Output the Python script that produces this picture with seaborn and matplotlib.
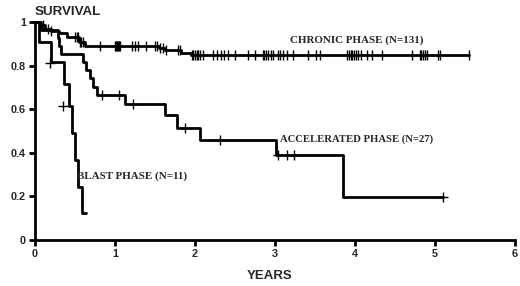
import matplotlib
matplotlib.use("Agg")
import matplotlib.pyplot as plt
import seaborn as sns
import pandas as pd

# Kaplan-Meier steps (time in years, survival level)
chronic_t = [0, 0.06, 0.12, 0.2, 0.3, 0.4, 0.55, 0.62, 1.55, 1.62, 1.82, 1.95, 5.43]
chronic_s = [1, 0.985, 0.97, 0.96, 0.95, 0.93, 0.91, 0.89, 0.88, 0.87, 0.86, 0.85, 0.85]
chronic_cens = [0.1, 0.16, 0.2, 0.5, 0.52, 0.54, 0.56, 0.58, 0.6, 0.81, 1.0, 1.01, 1.02, 1.03,
                1.04, 1.05, 1.06, 1.21, 1.25, 1.29, 1.39, 1.5, 1.52, 1.56, 1.6, 1.64, 1.79,
                1.81, 1.96, 1.98, 2.0, 2.02, 2.04, 2.06, 2.1, 2.23, 2.27, 2.33, 2.37, 2.41,
                2.5, 2.66, 2.75, 2.85, 2.87, 2.89, 2.91, 2.95, 2.98, 3.04, 3.06, 3.1, 3.15,
                3.23, 3.41, 3.52, 3.56, 3.9, 3.93, 3.95, 3.97, 3.99, 4.01, 4.04, 4.08,
                4.15, 4.21, 4.34, 4.71, 4.81, 4.83, 4.85, 4.88, 4.9, 5.04, 5.06, 5.43]

accel_t = [0, 0.08, 0.29, 0.3, 0.32, 0.6, 0.64, 0.69, 0.72, 0.77, 1.12, 1.62, 1.77, 2.06, 3.02, 3.85, 5.1]
accel_s = [1, 0.963, 0.926, 0.889, 0.852, 0.815, 0.778, 0.741, 0.704, 0.667, 0.625, 0.573,
           0.514, 0.459, 0.39, 0.195, 0.195]
accel_cens_t = [0.84, 1.05, 1.23, 1.87, 2.31, 3.04, 3.15, 3.24, 5.1]
accel_cens_s = [0.667, 0.667, 0.625, 0.514, 0.459, 0.39, 0.39, 0.39, 0.195]

blast_t = [0, 0.05, 0.2, 0.36, 0.42, 0.46, 0.5, 0.54, 0.59, 0.64]
blast_s = [1, 0.909, 0.818, 0.716, 0.614, 0.491, 0.368, 0.245, 0.123, 0.123]
blast_cens_t = [0.19, 0.35]
blast_cens_s = [0.81, 0.614]

x_ticks = [0, 1, 2, 3, 4, 5, 6]
y_ticks = [0, 0.2, 0.4, 0.6, 0.8, 1]
y_labels = ["0", "0.2", "0.4", "0.6", "0.8", "1"]


def level_at(t_list, s_list, t):
    # survival level of a step curve at time t
    lvl = s_list[0]
    for ti, si in zip(t_list, s_list):
        if ti <= t:
            lvl = si
    return lvl


sns.set_style("ticks")
plt.rcParams['font.family'] = ['Liberation Sans', 'DejaVu Sans']

fig = plt.figure(figsize=(5.2, 2.86), dpi=100)
ax = fig.add_axes([0.0673, 0.161, 0.9226, 0.762])

curves = [
    (chronic_t, chronic_s),
    (accel_t, accel_s),
    (blast_t, blast_s),
]
for t, s in curves:
    d = pd.DataFrame({"t": t, "s": s})
    sns.lineplot(data=d, x="t", y="s", drawstyle="steps-post", color="black",
                 linewidth=2, ax=ax, clip_on=False)

ax.plot(chronic_cens, [level_at(chronic_t, chronic_s, c) for c in chronic_cens],
        "|", color="black", ms=7, mew=1, clip_on=False)
for mk in ["|", "_"]:
    ax.plot(accel_cens_t, accel_cens_s, mk, color="black", ms=7, mew=1, clip_on=False)
    ax.plot(blast_cens_t, blast_cens_s, mk, color="black", ms=7, mew=1, clip_on=False)

ax.set_xlim(0, 6)
ax.set_ylim(0, 1)
ax.set_xticks(x_ticks)
ax.set_xticklabels([str(v) for v in x_ticks], fontweight="bold", fontsize=7.8)
ax.set_yticks(y_ticks)
ax.set_yticklabels(y_labels, fontweight="bold", fontsize=7.8)
ax.tick_params(axis="both", direction="out", length=4.5, width=2, pad=2, color="black")
for side in ["left", "bottom"]:
    ax.spines[side].set_linewidth(2)
    ax.spines[side].set_color("black")
sns.despine(ax=ax)
ax.set_xlabel("")
ax.set_ylabel("")

serif = ['Liberation Serif', 'DejaVu Serif']
ax.text(3.19, 0.893, "CHRONIC PHASE (N=131)", family=serif, fontweight="bold",
        fontsize=7.9, va="bottom", ha="left")
ax.text(3.07, 0.44, "ACCELERATED PHASE (N=27)", family=serif, fontweight="bold",
        fontsize=7.7, va="bottom", ha="left")
ax.text(0.52, 0.27, "BLAST PHASE (N=11)", family=serif, fontweight="bold",
        fontsize=7.9, va="bottom", ha="left")

fig.text(35 / 520, 1 - 12 / 286, "SURVIVAL", fontweight="bold", fontsize=9.6,
         ha="left", va="center")
fig.text(270 / 520, 1 - 276 / 286, "YEARS", fontweight="bold", fontsize=9.5,
         ha="center", va="center")

fig.savefig("out.png", dpi=100)
